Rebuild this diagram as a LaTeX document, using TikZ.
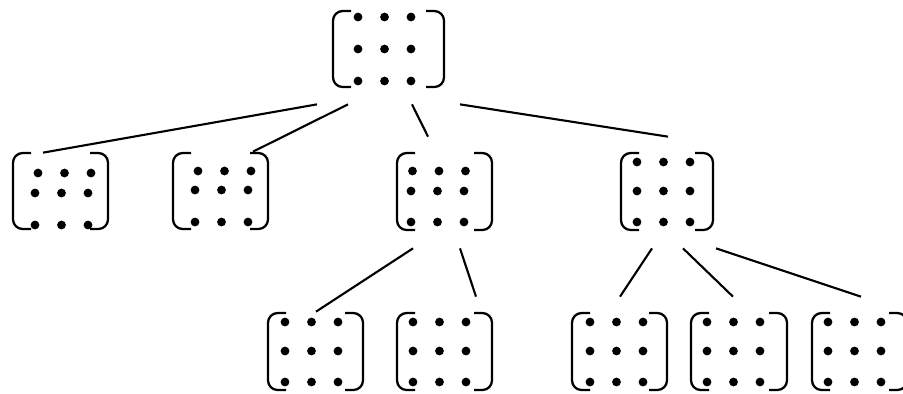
\documentclass[tikz,border=0pt]{standalone}
\usepackage{tikz}
\usetikzlibrary{calc,fit}
\tikzset{
  matbox/.style={inner sep=0pt,draw=none},
  mbrack/.style={line width=1.3pt,draw=black,rounded corners=5.5pt},
  mdot/.style={fill=black},
  tedge/.style={line width=1.2pt,draw=black}
}

\begin{document}
\begin{tikzpicture}[x=0.02cm,y=-0.02cm]
  \clip (0,0) rectangle (903,393);
  % matrices: name/left/right/top/bottom/first dot x/row ys/top row shift
  \foreach \nm/\L/\R/\T/\B/\xa/\ya/\yb/\yc/\sh in {
      root/333/444/11/87/358/17/49/81/0,
      A/13/108/153/229/35/173/193/225/3,
      B/173/268/153/229/195/171/190/222/3,
      C/397/492/153/230/411/171/191/222/1.5,
      D/621/713/153/230/637/162/191/222/0,
      E/268/363/313/390/285/322/351/382/0,
      F/397/492/313/390/413/322/351/382/0,
      G/572/667/313/390/590/322/351/382/0,
      H/691/787/313/390/707/322/351/382/0,
      I/812/907/313/390/828/322/351/382/0}{
    \node[matbox,fit={(\L,\T) (\R,\B)}] (\nm) {};
    \draw[mbrack] (\L+18,\T) -- (\L,\T) -- (\L,\B) -- (\L+18,\B);
    \draw[mbrack] (\R-18,\T) -- (\R,\T) -- (\R,\B) -- (\R-18,\B);
    \foreach \i in {0,1,2}{
      \fill[mdot] (\xa+26.5*\i+\sh,\ya) circle[radius=2.5pt];
      \fill[mdot] (\xa+26.5*\i,\yb) circle[radius=2.5pt];
      \fill[mdot] (\xa+26.5*\i,\yc) circle[radius=2.5pt];
    }
  }
  % tree edges
  \foreach \a/\b/\sx/\sy/\ex/\ey in {
      root/A/-71.5/17/-17.5/0,
      root/B/-40.5/17/32.5/-1,
      root/C/23.5/17/-16.5/-16,
      root/D/71.5/17/1/-16,
      C/E/-31.5/18/0.5/-1,
      C/F/15.5/18/31.5/-16,
      D/G/-15/18/0.5/-16,
      D/H/16/18/-6/-16,
      D/I/49/18/1.5/-16}{
    \draw[tedge] ($(\a.south)+(\sx,\sy)$) -- ($(\b.north)+(\ex,\ey)$);
  }
\end{tikzpicture}
\end{document}
